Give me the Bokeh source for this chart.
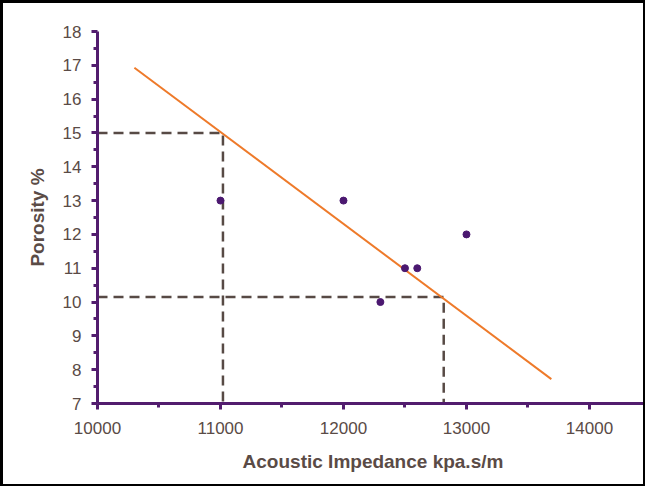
from bokeh.plotting import figure
from bokeh.models import Range1d, FixedTicker
from bokeh.embed import file_html
from bokeh.resources import INLINE

# data
imp = [11000, 12000, 12500, 12600, 12300, 13000]
por = [13, 13, 11, 11, 10, 12]
fit_x = [10300, 13690]
fit_y = [16.93, 7.72]
guide1_x = [10000, 11020, 11020]
guide1_y = [15, 15, 7]
guide2_x = [10000, 12815, 12815]
guide2_y = [10.15, 10.15, 7]
x_ticks = [10000, 11000, 12000, 13000, 14000]
x_minor = [10500, 11500, 12500, 13500, 14500]
y_ticks = list(range(7, 19))
y_minor = [v + 0.5 for v in range(7, 18)]

PURPLE = "#521C6E"
TXT = "#5A4B46"

p = figure(width=645, height=486, output_backend="svg", toolbar_location=None,
           x_range=Range1d(10000, 14480), y_range=Range1d(7, 18),
           min_border_left=94, min_border_right=0, min_border_top=28, min_border_bottom=86)
p.styles = {"border-style": "solid", "border-color": "black",
            "border-width": "3px 2px 2px 3px"}
p.outline_line_color = None
p.grid.visible = False
p.background_fill_color = "white"

for ax in (p.xaxis[0], p.yaxis[0]):
    ax.axis_line_color = PURPLE
    ax.axis_line_width = 3
    ax.major_tick_line_color = PURPLE
    ax.major_tick_line_width = 3
    ax.minor_tick_line_color = PURPLE
    ax.minor_tick_line_width = 3
    ax.major_tick_in = 0
    ax.minor_tick_in = 0
    ax.major_tick_out = 6
    ax.minor_tick_out = 4
    ax.major_label_text_font = "Liberation Sans"
    ax.major_label_text_font_size = "17px"
    ax.major_label_text_color = TXT
    ax.axis_label_text_font = "Liberation Sans"
    ax.axis_label_text_font_size = "19px"
    ax.axis_label_text_font_style = "bold"
    ax.axis_label_text_color = TXT

p.xaxis.ticker = FixedTicker(ticks=x_ticks, minor_ticks=x_minor)
p.yaxis.ticker = FixedTicker(ticks=y_ticks, minor_ticks=y_minor)
p.xaxis.axis_label = "Acoustic Impedance kpa.s/m"
p.yaxis.axis_label = "Porosity %"
p.xaxis.major_label_standoff = 12
p.yaxis.major_label_standoff = 10
p.xaxis.axis_label_standoff = 14
p.yaxis.axis_label_standoff = 12

p.line(guide1_x, guide1_y, line_color="#574A45", line_width=2.5, line_dash="10 6")
p.line(guide2_x, guide2_y, line_color="#574A45", line_width=2.5, line_dash="10 6")
p.line(fit_x, fit_y, line_color="#EE7A2A", line_width=2)
p.scatter(imp, por, size=7, color="#4B1870")

open("out.html", "w").write(file_html(p, INLINE))
